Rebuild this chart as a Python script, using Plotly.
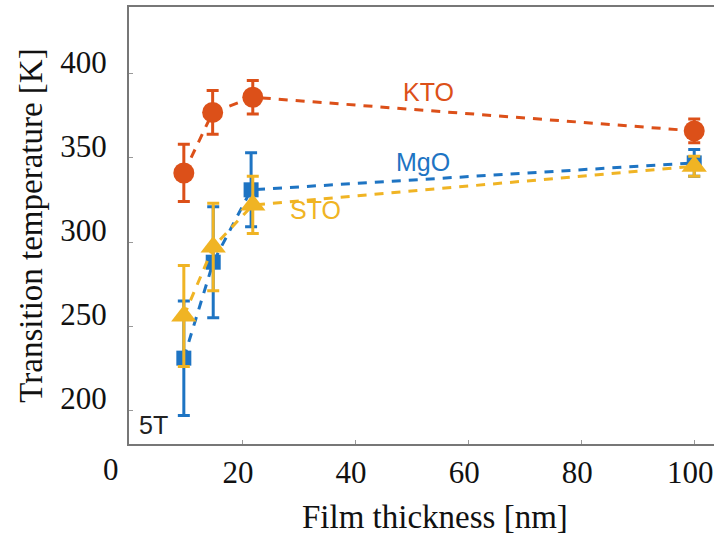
import plotly.graph_objects as go

# Data
thickness = [9.7, 14.8, 21.9, 100]
kto_T = [341, 377, 386, 366]
kto_err = [17, 13, 10, 7]
mgo_thick = [9.7, 14.9, 21.6, 100]
mgo_T = [231, 288, 331, 347]
mgo_err = [34, 33, 22, 8]
sto_thick = [9.7, 14.9, 21.9, 100]
sto_T = [256, 297, 322, 345]
sto_err = [30, 26, 17, 6]

x_ticks = [0, 20, 40, 60, 80, 100]
x_ticktext = ["", "20", "40", "60", "80", "100"]
y_ticks = [200, 250, 300, 350, 400]

c_kto = "#DC5019"
c_mgo = "#1E74C3"
c_sto = "#F0B424"

fig = go.Figure()

def add_series(x, y, err, color, symbol, size):
    fig.add_trace(go.Scatter(
        x=x, y=y, mode="lines+markers",
        line=dict(color=color, width=3, dash="9px,8px"),
        marker=dict(color=color, symbol=symbol, size=size),
        error_y=dict(type="data", array=err, color=color, thickness=3, width=6),
        showlegend=False, cliponaxis=False,
    ))

add_series(thickness, kto_T, kto_err, c_kto, "circle", 21)
add_series(mgo_thick, mgo_T, mgo_err, c_mgo, "square", 15)
add_series(sto_thick, sto_T, sto_err, c_sto, "triangle-up", 22)

lab_font = "Liberation Sans, Arial"
fig.add_annotation(x=53, y=389, text="KTO", showarrow=False,
                   font=dict(family=lab_font, size=25, color=c_kto))
fig.add_annotation(x=52, y=347.5, text="MgO", showarrow=False,
                   font=dict(family=lab_font, size=25, color=c_mgo))
fig.add_annotation(x=33, y=319, text="STO", showarrow=False,
                   font=dict(family=lab_font, size=25, color=c_sto))
fig.add_annotation(x=4.4, y=191, text="5T", showarrow=False,
                   font=dict(family=lab_font, size=25, color="#222222"))

tick_font = dict(family="Liberation Serif, Times New Roman, serif", size=31, color="#111111")
title_font = dict(family="Liberation Serif, Times New Roman, serif", size=33, color="#111111")

# "0" tick label (offset left of the axis as in the reference)
fig.add_annotation(x=0, xref="x", y=0, yref="paper", text="0", showarrow=False,
                   xanchor="center", yanchor="top", xshift=-18, yshift=-6,
                   font=tick_font)
# x-axis title
fig.add_annotation(x=0.523, xref="paper", y=0, yref="paper", text="Film thickness [nm]",
                   showarrow=False, xanchor="center", yanchor="middle", yshift=-73,
                   font=title_font)

fig.update_layout(
    width=714, height=535,
    margin=dict(l=129, r=0, t=7, b=91),
    paper_bgcolor="white", plot_bgcolor="white",
    xaxis=dict(
        range=[0, 103.5], tickvals=x_ticks, ticktext=x_ticktext,
        showgrid=False, zeroline=False,
        showline=True, linecolor="#777777", linewidth=2, mirror=True,
        ticks="inside", ticklen=4, tickcolor="#999999",
        tickfont=tick_font, ticklabelstandoff=0, ticklabelshift=-4,
        ticklabeloverflow="allow",
    ),
    yaxis=dict(
        range=[180, 439.6], tickvals=y_ticks, ticktext=[str(v) for v in y_ticks],
        showgrid=False, zeroline=False,
        showline=True, linecolor="#777777", linewidth=2,
        ticks="inside", ticklen=4, tickcolor="#999999",
        tickfont=tick_font, ticklabelshift=-12, ticklabelstandoff=14,
        title=dict(text="Transition temperature [K]", font=title_font, standoff=8),
    ),
)

fig.write_html("out.html")
